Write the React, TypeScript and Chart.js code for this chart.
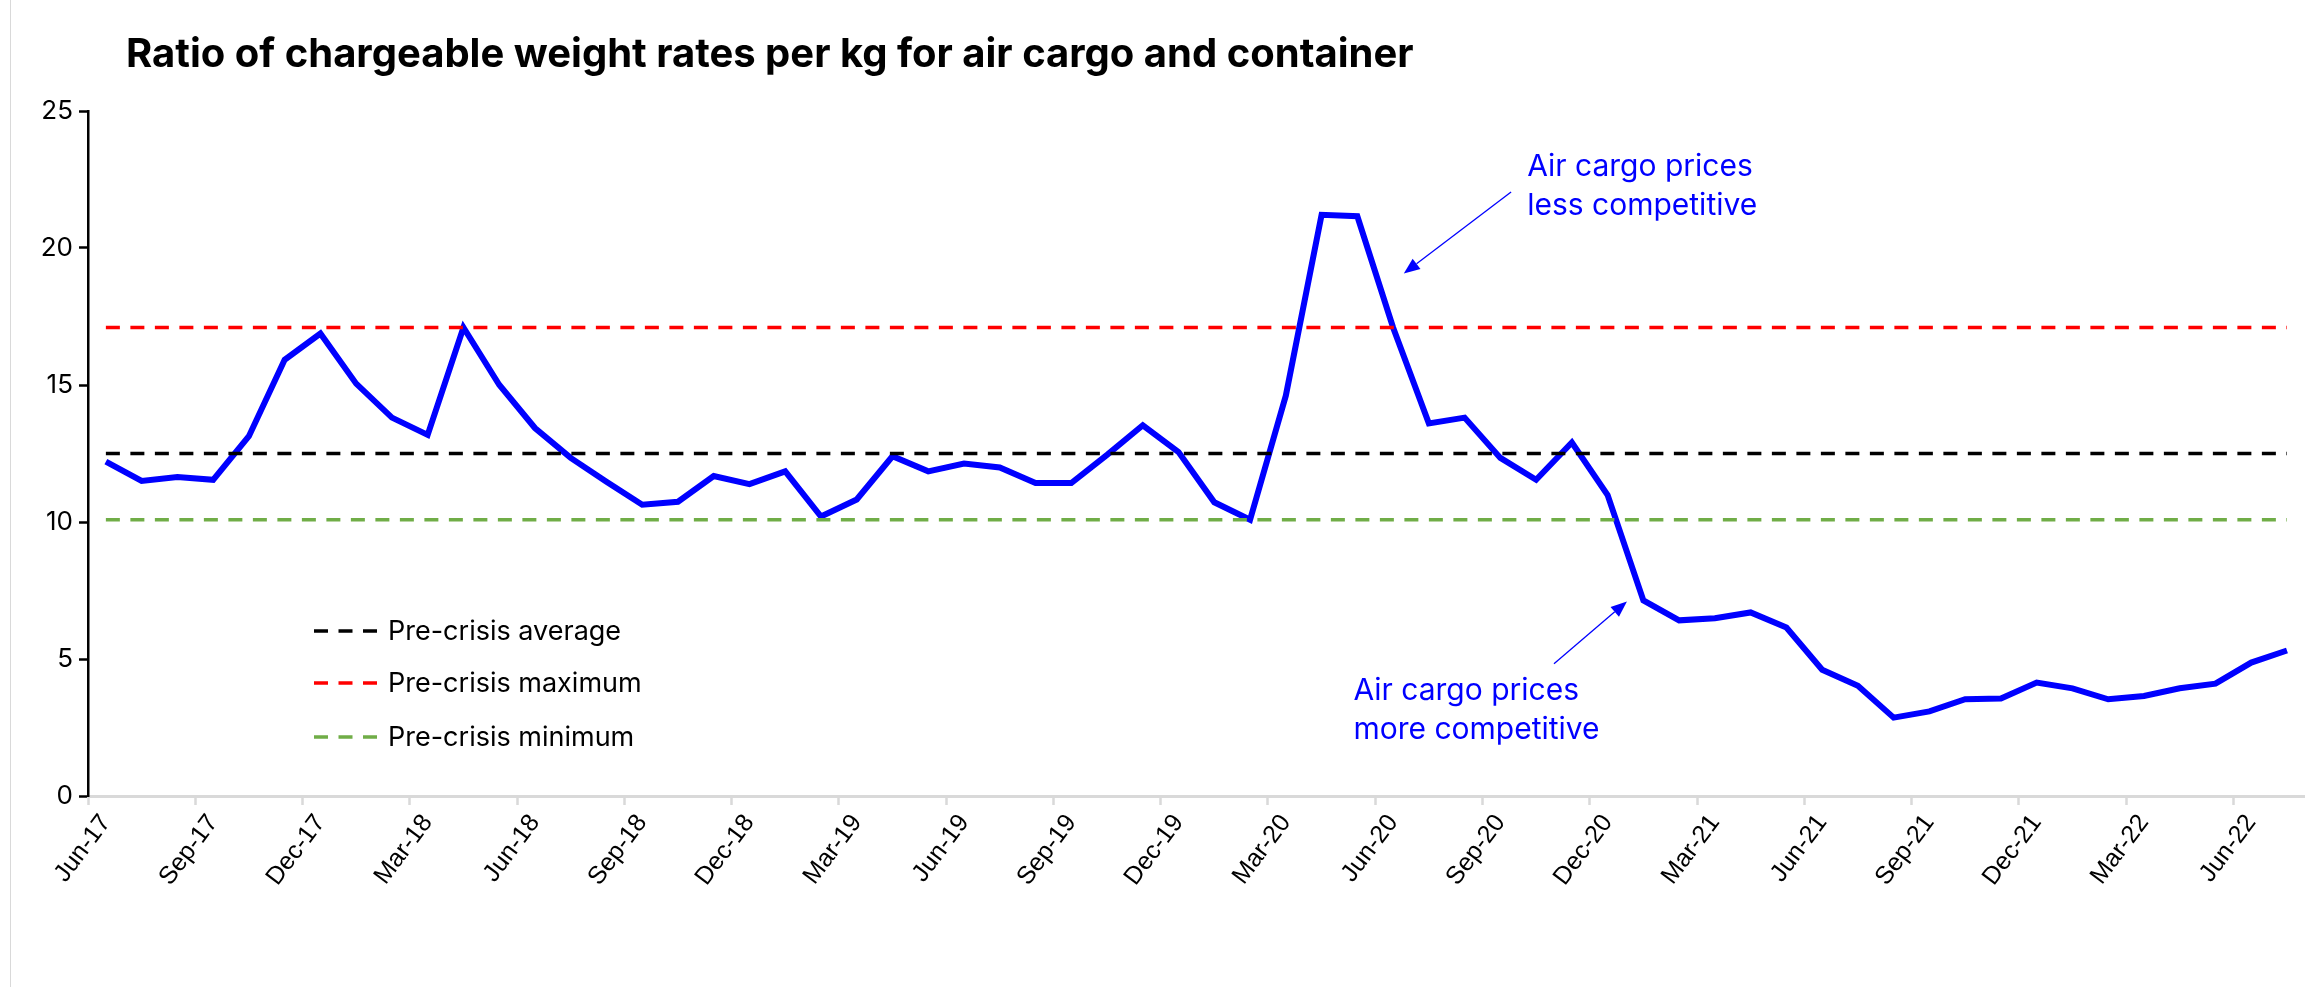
import React, { useEffect, useRef } from "react";
import { Chart, registerables } from "chart.js";

Chart.register(...registerables);

const titleText = "Ratio of chargeable weight rates per kg for air cargo and container";

const categories = [
  "Jun-17", "Jul-17", "Aug-17", "Sep-17", "Oct-17", "Nov-17", "Dec-17",
  "Jan-18", "Feb-18", "Mar-18", "Apr-18", "May-18", "Jun-18", "Jul-18", "Aug-18", "Sep-18", "Oct-18", "Nov-18", "Dec-18",
  "Jan-19", "Feb-19", "Mar-19", "Apr-19", "May-19", "Jun-19", "Jul-19", "Aug-19", "Sep-19", "Oct-19", "Nov-19", "Dec-19",
  "Jan-20", "Feb-20", "Mar-20", "Apr-20", "May-20", "Jun-20", "Jul-20", "Aug-20", "Sep-20", "Oct-20", "Nov-20", "Dec-20",
  "Jan-21", "Feb-21", "Mar-21", "Apr-21", "May-21", "Jun-21", "Jul-21", "Aug-21", "Sep-21", "Oct-21", "Nov-21", "Dec-21",
  "Jan-22", "Feb-22", "Mar-22", "Apr-22", "May-22", "Jun-22", "Jul-22",
];

const ratioValues = [
  12.2, 11.5, 11.64, 11.54, 13.13, 15.92, 16.88,
  15.05, 13.81, 13.18, 17.1, 15.01, 13.43, 12.34, 11.47, 10.63, 10.74, 11.68, 11.38,
  11.85, 10.2, 10.82, 12.4, 11.85, 12.13, 11.99, 11.42, 11.42, 12.45, 13.53, 12.55,
  10.72, 10.08, 14.61, 21.21, 21.16, 17.1, 13.6, 13.81, 12.34, 11.54, 12.9, 10.98,
  7.14, 6.41, 6.49, 6.7, 6.15, 4.61, 4.02, 2.86, 3.09, 3.53, 3.56, 4.14,
  3.93, 3.53, 3.65, 3.93, 4.1, 4.87, 5.31,
];

const preCrisisAverage = 12.5;
const preCrisisMaximum = 17.1;
const preCrisisMinimum = 10.08;

const legendLabels = ["Pre-crisis average", "Pre-crisis maximum", "Pre-crisis minimum"];
const seriesLabel = "Air cargo / container rate ratio";

const annotationLess = ["Air cargo prices", "less competitive"];
const annotationMore = ["Air cargo prices", "more competitive"];

const BLUE = "#0000ff";

function drawArrow(ctx: CanvasRenderingContext2D, x1: number, y1: number, x2: number, y2: number) {
  const ang = Math.atan2(y2 - y1, x2 - x1);
  const head = 16;
  const half = 6.5;
  const bx = x2 - head * Math.cos(ang);
  const by = y2 - head * Math.sin(ang);
  ctx.save();
  ctx.strokeStyle = BLUE;
  ctx.fillStyle = BLUE;
  ctx.lineWidth = 1.3;
  ctx.beginPath();
  ctx.moveTo(x1, y1);
  ctx.lineTo(bx, by);
  ctx.stroke();
  ctx.beginPath();
  ctx.moveTo(x2, y2);
  ctx.lineTo(bx + half * Math.sin(ang), by - half * Math.cos(ang));
  ctx.lineTo(bx - half * Math.sin(ang), by + half * Math.cos(ang));
  ctx.closePath();
  ctx.fill();
  ctx.restore();
}

export default function App() {
  const ref = useRef<HTMLCanvasElement>(null);

  useEffect(() => {
    const canvas = ref.current;
    if (!canvas) return;

    const overlay = {
      id: "overlay",
      afterDraw(chart: any) {
        const ctx: CanvasRenderingContext2D = chart.ctx;
        const xs = chart.scales.x;
        const ys = chart.scales.y;
        ctx.save();
        // Title
        ctx.fillStyle = "#000";
        ctx.font = "700 40px Inter";
        ctx.textAlign = "left";
        ctx.textBaseline = "alphabetic";
        ctx.fillText(titleText, 126, 67);

        // Legend (reference lines)
        const rows = [631, 683, 737];
        chart.data.datasets.slice(0, 3).forEach((ds: any, i: number) => {
          ctx.save();
          ctx.strokeStyle = ds.borderColor;
          ctx.lineWidth = ds.borderWidth;
          ctx.setLineDash(ds.borderDash);
          ctx.beginPath();
          ctx.moveTo(314, rows[i]);
          ctx.lineTo(379, rows[i]);
          ctx.stroke();
          ctx.restore();
          ctx.fillStyle = "#000";
          ctx.font = "27px Inter";
          ctx.textBaseline = "middle";
          ctx.fillText(ds.label, 388, rows[i] + 1);
        });

        // Annotations
        const px = (v: number) => xs.getPixelForValue(v);
        const py = (v: number) => ys.getPixelForValue(v);
        ctx.fillStyle = BLUE;
        ctx.font = "30px Inter";
        ctx.textBaseline = "middle";
        annotationLess.forEach((t, i) => ctx.fillText(t, px(39.75), py(22.95) + i * 39));
        annotationMore.forEach((t, i) => ctx.fillText(t, px(34.89), py(3.85) + i * 39));
        drawArrow(ctx, px(39.3), py(22.04), px(36.3), py(19.07));
        drawArrow(ctx, px(40.5), py(4.83), px(42.54), py(7.1));
        ctx.restore();
      },
    };

    const refDataset = (label: string, value: number, color: string) => ({
      label,
      data: categories.map(() => value),
      borderColor: color,
      backgroundColor: color,
      borderWidth: 3.5,
      borderDash: [14, 10.5],
      pointRadius: 0,
      fill: false,
      order: 0,
    });

    const chart = new Chart(canvas, {
      type: "line",
      data: {
        labels: categories,
        datasets: [
          refDataset(legendLabels[0], preCrisisAverage, "#000000"),
          refDataset(legendLabels[1], preCrisisMaximum, "#ff0000"),
          refDataset(legendLabels[2], preCrisisMinimum, "#70ad47"),
          {
            label: seriesLabel,
            data: ratioValues,
            borderColor: BLUE,
            backgroundColor: BLUE,
            borderWidth: 6,
            pointRadius: 0,
            tension: 0,
            fill: false,
            order: 1,
          },
        ],
      },
      options: {
        responsive: false,
        animation: false,
        maintainAspectRatio: false,
        layout: { padding: { left: 0, top: 111, right: 7, bottom: 0 } },
        plugins: {
          legend: { display: false },
          tooltip: { enabled: false },
          title: { display: false },
        },
        scales: {
          x: {
            type: "category",
            offset: true,
            grid: {
              offset: true,
              drawOnChartArea: false,
              drawTicks: true,
              tickLength: 9,
              tickWidth: 2.5,
              tickColor: (c: any) => (typeof c.index === "number" && c.index % 3 === 0 ? "#d9d9d9" : "rgba(0,0,0,0)"),
            },
            border: { color: "#d9d9d9", width: 3 },
            ticks: {
              autoSkip: false,
              maxRotation: 53,
              minRotation: 53,
              labelOffset: 0,
              padding: 4,
              color: "#000",
              font: { family: "Liberation Sans", size: 25 },
              callback: (_v: any, i: number) => (i % 3 === 0 ? categories[i] : ""),
            },
            afterFit: (s: any) => {
              s.height = 191;
            },
          },
          y: {
            min: 0,
            max: 25,
            ticks: {
              stepSize: 5,
              padding: 6,
              color: "#000",
              font: { family: "Inter", size: 26 },
            },
            grid: {
              drawOnChartArea: false,
              drawTicks: true,
              tickLength: 9,
              tickWidth: 2.5,
              tickColor: "#000",
            },
            border: { color: "#000", width: 2.5 },
            afterFit: (s: any) => {
              s.width = 88;
            },
          },
        },
      },
      plugins: [overlay],
    } as any);

    return () => chart.destroy();
  }, []);

  return (
    <div style={{ position: "fixed", left: 0, top: 0, width: 2315, height: 987, background: "#fff" }}>
      <div style={{ position: "absolute", left: 10, top: 0, width: 1, height: 987, background: "#d9d9d9" }} />
      <canvas
        ref={ref}
        width={2315}
        height={987}
        style={{ position: "absolute", left: 0, top: 0, width: 2315, height: 987 }}
      />
    </div>
  );
}
